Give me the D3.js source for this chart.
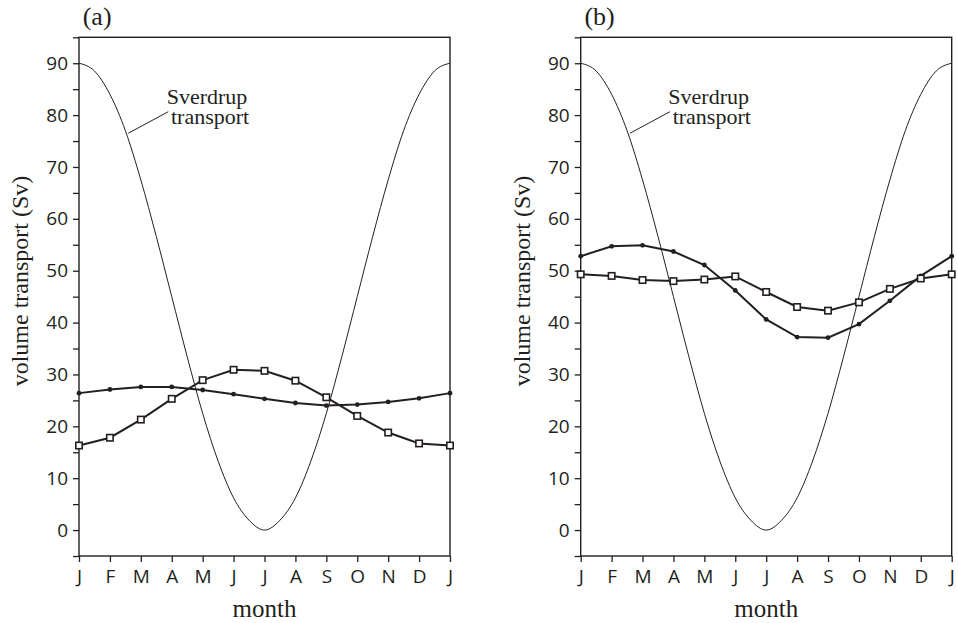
<!DOCTYPE html>
<html>
<head>
<meta charset="utf-8">
<script src="https://cdn.jsdelivr.net/npm/d3@7"></script>
<style>
  html, body { margin: 0; padding: 0; background: #fff; }
  svg { display: block; }
  .tick text { font-family: "Open Sans", sans-serif; font-size: 19px; fill: #231f20; }
  .serif { font-family: "Liberation Serif", "Times New Roman", serif; fill: #231f20; }
</style>
</head>
<body>
<svg id="chart" width="958" height="623"></svg>
<script>
// ---- data ----
const monthLabels = ["J","F","M","A","M","J","J","A","S","O","N","D","J"];
const monthIndex = [0,1,2,3,4,5,6,7,8,9,10,11,12];
const yTicks = [-5,0,5,10,15,20,25,30,35,40,45,50,55,60,65,70,75,80,85,90,95];
const yLabelTicks = [0,10,20,30,40,50,60,70,80,90];

// Sverdrup transport read at half-month steps (0, 0.5, ..., 12)
const sverdrupT = [0,0.5,1,1.5,2,2.5,3,3.5,4,4.5,5,5.5,6,6.5,7,7.5,8,8.5,9,9.5,10,10.5,11,11.5,12];
const sverdrupV = [90,88.5,84,77,67.5,56.6,45,33.4,22.5,13.3,6.2,1.9,0,1.9,6.2,13.3,22.5,33.4,45,56.6,67.5,77,84,88.5,90];

// panel (a)
const aSquares = [16.3,17.8,21.3,25.3,28.9,30.9,30.7,28.8,25.6,22.0,18.8,16.7,16.3];
const aDots    = [26.4,27.1,27.6,27.6,27.0,26.2,25.3,24.5,24.0,24.2,24.7,25.4,26.4];
// panel (b)
const bSquares = [49.3,49.0,48.2,48.0,48.3,48.9,45.9,43.0,42.3,43.9,46.5,48.5,49.3];
const bDots    = [52.8,54.7,54.9,53.7,51.1,46.2,40.6,37.2,37.1,39.7,44.2,49.0,52.8];

const panels = [
  {label: "(a)", squares: aSquares, dots: aDots, x0: 79},
  {label: "(b)", squares: bSquares, dots: bDots, x0: 580.7}
];

// ---- layout ----
const svg = d3.select("#chart");
const plotW = 371, plotTop = 37.3, plotBottom = 556;
const ink = "#231f20";

panels.forEach(p => {
  const g = svg.append("g").attr("transform", `translate(${p.x0},0)`);
  const x = d3.scaleLinear().domain([0,12]).range([0, plotW]);
  const y = d3.scaleLinear().domain([-5,95]).range([plotBottom, plotTop]);

  // frame
  g.append("rect").attr("x", 0).attr("y", plotTop).attr("width", plotW).attr("height", plotBottom - plotTop)
    .attr("fill", "none").attr("stroke", ink).attr("stroke-width", 1.4);

  // y axis
  const ya = g.append("g").call(d3.axisLeft(y).tickValues(yTicks).tickSize(6).tickPadding(5).tickSizeOuter(0)
      .tickFormat(d => yLabelTicks.includes(d) ? d : ""));
  ya.select(".domain").remove();
  ya.selectAll(".tick line").attr("stroke", ink).attr("stroke-width", 1.3);

  // x axis
  const xa = g.append("g").attr("transform", `translate(0,${plotBottom})`)
    .call(d3.axisBottom(x).tickValues(monthIndex).tickSize(6).tickPadding(8).tickSizeOuter(0)
      .tickFormat(i => monthLabels[i]));
  xa.select(".domain").remove();
  xa.selectAll(".tick line").attr("stroke", ink).attr("stroke-width", 1.3);

  // Sverdrup curve
  const sv = sverdrupT.map((t, i) => [t, sverdrupV[i]]);
  g.append("path").datum(sv)
    .attr("d", d3.line().x(d => x(d[0])).y(d => y(d[1])).curve(d3.curveMonotoneX))
    .attr("fill", "none").attr("stroke", ink).attr("stroke-width", 1);

  // annotation (one two-line label)
  g.append("line")
    .attr("x1", x(1.594)).attr("y1", y(76.5))
    .attr("x2", x(2.888)).attr("y2", y(80.66))
    .attr("stroke", ink).attr("stroke-width", 1);
  const ann = g.append("text").attr("class", "serif").attr("font-size", 22);
  ann.append("tspan").attr("x", x(2.836)).attr("y", y(82.15)).text("Sverdrup");
  ann.append("tspan").attr("x", x(2.975)).attr("y", y(78.3)).text("transport");

  const line = d3.line().x((d, i) => x(monthIndex[i])).y(d => y(d));

  // dot series
  g.append("path").datum(p.dots).attr("d", line)
    .attr("fill", "none").attr("stroke", ink).attr("stroke-width", 2);
  g.selectAll(".dot").data(p.dots).join("circle")
    .attr("cx", (d, i) => x(monthIndex[i])).attr("cy", d => y(d)).attr("r", 2.4).attr("fill", ink);

  // square series
  g.append("path").datum(p.squares).attr("d", line)
    .attr("fill", "none").attr("stroke", ink).attr("stroke-width", 2);
  const s = 6.4;
  g.selectAll(".sq").data(p.squares).join("rect")
    .attr("x", (d, i) => x(monthIndex[i]) - s/2).attr("y", d => y(d) - s/2)
    .attr("width", s).attr("height", s)
    .attr("fill", "#fff").attr("stroke", ink).attr("stroke-width", 1.6);

  // panel label
  g.append("text").attr("class", "serif").attr("font-size", 26)
    .attr("x", 3.7).attr("y", 25.3).text(p.label);

  // x title
  g.append("text").attr("class", "serif").attr("font-size", 25).attr("text-anchor", "middle")
    .attr("x", plotW/2).attr("y", 616.7).text("month");

  // y title
  g.append("text").attr("class", "serif").attr("font-size", 24).attr("text-anchor", "middle")
    .attr("transform", `translate(${27.8 - 79},281) rotate(-90)`).text("volume transport (Sv)");
});
</script>
</body>
</html>
